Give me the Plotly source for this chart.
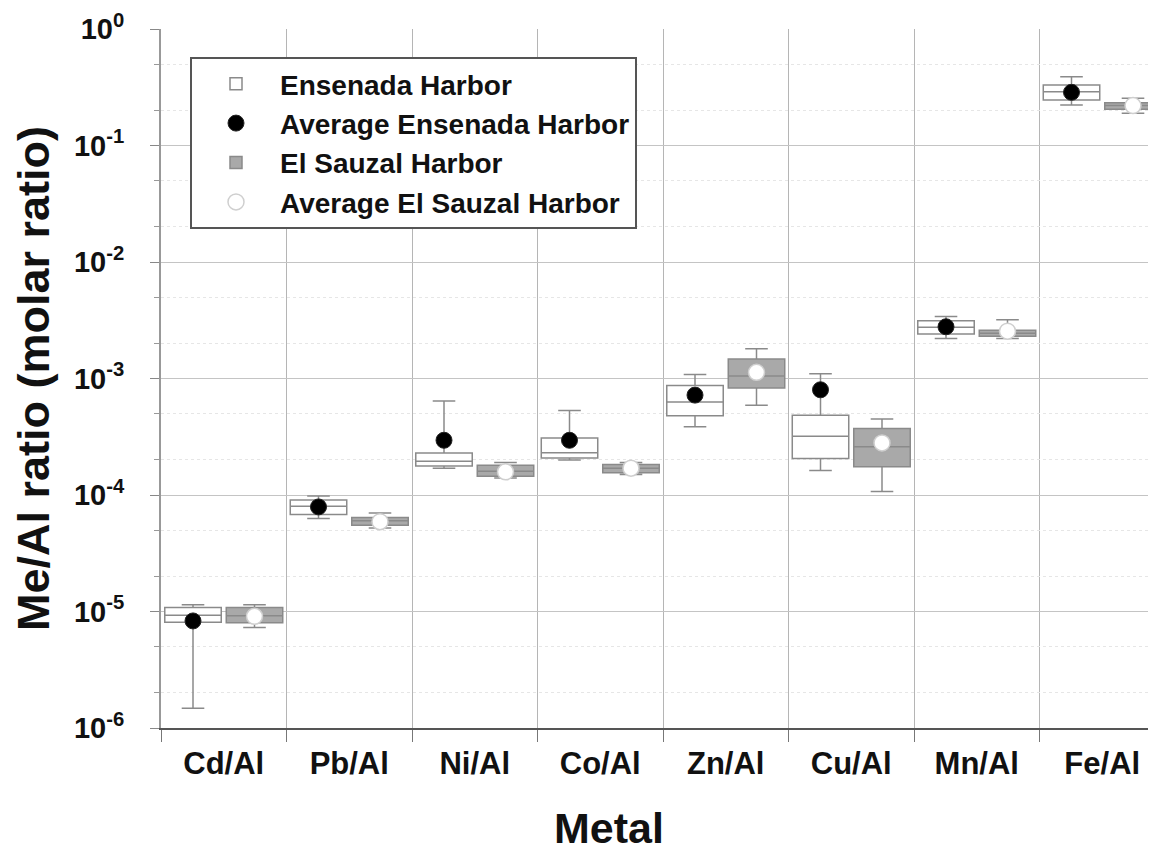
import plotly.graph_objects as go

metals = ["Cd/Al", "Pb/Al", "Ni/Al", "Co/Al", "Zn/Al", "Cu/Al", "Mn/Al", "Fe/Al"]

ens_low = [1.48e-6, 6.3e-5, 1.7e-4, 2.0e-4, 3.85e-4, 1.62e-4, 2.2e-3, 0.223]
ens_q1 = [8.1e-6, 6.8e-5, 1.77e-4, 2.08e-4, 4.8e-4, 2.06e-4, 2.41e-3, 0.246]
ens_med = [9.3e-6, 8.0e-5, 1.95e-4, 2.3e-4, 6.3e-4, 3.2e-4, 2.75e-3, 0.29]
ens_q3 = [1.08e-5, 9.06e-5, 2.29e-4, 3.08e-4, 8.7e-4, 4.83e-4, 3.13e-3, 0.33]
ens_high = [1.14e-5, 9.8e-5, 6.4e-4, 5.3e-4, 1.08e-3, 1.1e-3, 3.4e-3, 0.39]
ens_mean = [8.3e-6, 7.9e-5, 2.95e-4, 2.95e-4, 7.2e-4, 8.0e-4, 2.78e-3, 0.286]

sau_low = [7.3e-6, 5.2e-5, 1.4e-4, 1.5e-4, 5.9e-4, 1.07e-4, 2.2e-3, 0.189]
sau_q1 = [8.0e-6, 5.5e-5, 1.45e-4, 1.55e-4, 8.3e-4, 1.75e-4, 2.3e-3, 0.205]
sau_med = [9.2e-6, 6.0e-5, 1.6e-4, 1.7e-4, 1.05e-3, 2.6e-4, 2.45e-3, 0.22]
sau_q3 = [1.08e-5, 6.4e-5, 1.8e-4, 1.83e-4, 1.47e-3, 3.72e-4, 2.6e-3, 0.233]
sau_high = [1.14e-5, 7.0e-5, 1.9e-4, 1.9e-4, 1.8e-3, 4.5e-4, 3.2e-3, 0.254]
sau_mean = [9.1e-6, 5.9e-5, 1.58e-4, 1.7e-4, 1.13e-3, 2.8e-4, 2.55e-3, 0.22]

y_tickvals = [1e-6, 1e-5, 1e-4, 1e-3, 1e-2, 1e-1, 1]
y_ticktext = ["10<sup>-6</sup>", "10<sup>-5</sup>", "10<sup>-4</sup>", "10<sup>-3</sup>",
              "10<sup>-2</sup>", "10<sup>-1</sup>", "10<sup>0</sup>"]

idx = list(range(len(metals)))
off = 0.245
bw = 0.45
x_ens = [i - off for i in idx]
x_sau = [i + off for i in idx]

FONT = "Liberation Sans, Arial, sans-serif"

# plot area in figure pixels
L, T, B = 153, 21, 130
PW, PH = 1156 - L, 850 - T - B

fig = go.Figure()
fig.add_trace(go.Box(
    name="Ensenada Harbor", x=x_ens, q1=ens_q1, median=ens_med, q3=ens_q3,
    lowerfence=ens_low, upperfence=ens_high, width=bw, whiskerwidth=0.4,
    fillcolor="white", line=dict(color="#8a8a8a", width=1.5), boxpoints=False,
    hoverinfo="skip"))
fig.add_trace(go.Scatter(
    name="Average Ensenada Harbor", x=x_ens, y=ens_mean, mode="markers",
    marker=dict(color="black", size=16, line=dict(color="#222", width=1))))
fig.add_trace(go.Box(
    name="El Sauzal Harbor", x=x_sau, q1=sau_q1, median=sau_med, q3=sau_q3,
    lowerfence=sau_low, upperfence=sau_high, width=bw, whiskerwidth=0.4,
    fillcolor="#a9a9a9", line=dict(color="#8a8a8a", width=1.5), boxpoints=False,
    hoverinfo="skip"))
fig.add_trace(go.Scatter(
    name="Average El Sauzal Harbor", x=x_sau, y=sau_mean, mode="markers",
    marker=dict(color="white", size=16, line=dict(color="#cfcfcf", width=1.5))))

fig.update_layout(
    width=1156, height=850,
    margin=dict(l=L, r=0, t=T, b=B),
    paper_bgcolor="white", plot_bgcolor="white",
    font=dict(family=FONT, color="#111", size=20),
    showlegend=True,
    legend=dict(x=(182 - L) / PW, y=(T + PH - 49) / PH, xanchor="left", yanchor="top",
                bgcolor="white", bordercolor="#555", borderwidth=2,
                font=dict(family=FONT, size=28, color="#111", weight="bold"),
                itemwidth=78, tracegroupgap=0),
    annotations=[dict(text="<b>Metal</b>", xref="paper", yref="paper",
                      x=(601 - L) / PW, y=-(820 - (T + PH)) / PH,
                      xanchor="center", yanchor="middle", showarrow=False,
                      font=dict(size=43, family=FONT, color="#111"))],
)

fig.update_xaxes(
    range=[-0.5, -0.5 + PW / 125.5], tickmode="array", tickvals=idx,
    ticktext=["<b>%s</b>" % m for m in metals],
    ticks="", showgrid=False, zeroline=False, automargin=False,
    showline=True, linecolor="#555", linewidth=2, ticklabelstandoff=7,
    tickfont=dict(size=31, family=FONT, color="#111"),
    minor=dict(tickmode="linear", tick0=0.5, dtick=1, ticks="outside", ticklen=12,
               tickcolor="#777", showgrid=True, gridcolor="#b5b5b5", gridwidth=1),
)

fig.update_yaxes(
    type="log", range=[-6, 0], tickmode="array", tickvals=y_tickvals,
    ticktext=["<b>%s</b>" % t for t in y_ticktext],
    ticks="outside", ticklen=9, tickcolor="#888", automargin=False,
    showgrid=True, gridcolor="#c4c4c4", gridwidth=1.2, ticklabelstandoff=20,
    showline=True, linecolor="#999", linewidth=2, zeroline=False,
    tickfont=dict(size=29, family=FONT, color="#111"),
    title=dict(text="<b>Me/Al ratio (molar ratio)</b>",
               font=dict(size=45, family=FONT, color="#111"), standoff=13),
    minor=dict(ticks="outside", ticklen=5, tickcolor="#999", showgrid=True,
               gridcolor="#e6e6e6", gridwidth=1, griddash="dot"),
)

fig.write_html("out.html")
